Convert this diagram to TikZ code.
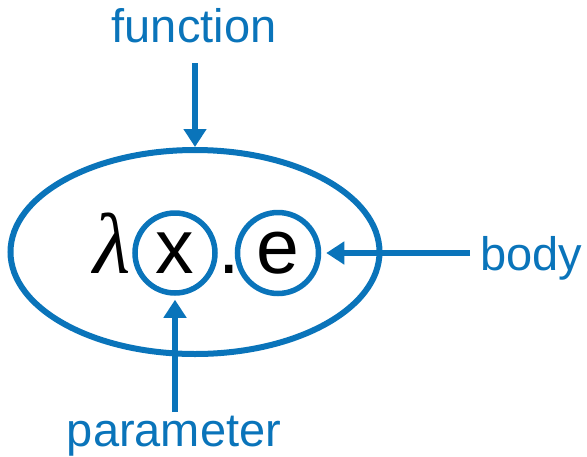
\documentclass[tikz,border=0pt]{standalone}
\usepackage{fontspec}
\setmainfont{Liberation Sans}
\newfontfamily\lamfont{Liberation Serif}
\usetikzlibrary{positioning, shapes.geometric, arrows.meta}
\usepackage{xcolor}
\definecolor{lcblue}{HTML}{0A74BA}

\begin{document}
\begin{tikzpicture}[x=1pt, y=-1pt,
    lbl/.style={text=lcblue, font=\fontsize{47}{50}\selectfont, inner sep=0pt},
    term/.style={font=\fontsize{77}{80}\selectfont, inner sep=0pt},
    ring/.style={draw=lcblue, line width=5.5pt, circle, inner sep=0pt, minimum size=80pt},
    arr/.style={-{Triangle[length=18pt, width=22pt]}, line width=5.5pt, color=lcblue}]
  \useasboundingbox (0,0) rectangle (587,456);
  % the whole abstraction
  \node[draw=lcblue, line width=6pt, ellipse, inner sep=0pt,
        minimum width=369pt, minimum height=204pt] (func) at (195,252) {};
  \node[font=\fontsize{86}{90}\selectfont\lamfont\itshape, inner sep=0pt,
        anchor=base] (lam) at (112,273) {λ};
  \node[term, ring] (par) at (175,253) {x};
  \node[term, anchor=base] (dot) at (229,273) {.};
  \node[term, ring, minimum size=81pt] (bod) at (278,253) {e};
  % labels
  \node[lbl, anchor=base] (lfunc) at (194,42) {function};
  \node[lbl, anchor=base west] (lbody) at (480,270) {body};
  \node[lbl, anchor=base] (lpar) at (174,446) {parameter};
  \coordinate (ftail) at (195,63);
  \coordinate (btail) at (470,253);
  \coordinate (ptail) at (175,412);
  \draw[arr] (ftail) -- (func.north);
  \draw[arr, shorten >=5pt] (btail) -- (bod.east);
  \draw[arr, shorten >=4pt] (ptail) -- (par.south);
\end{tikzpicture}
\end{document}
